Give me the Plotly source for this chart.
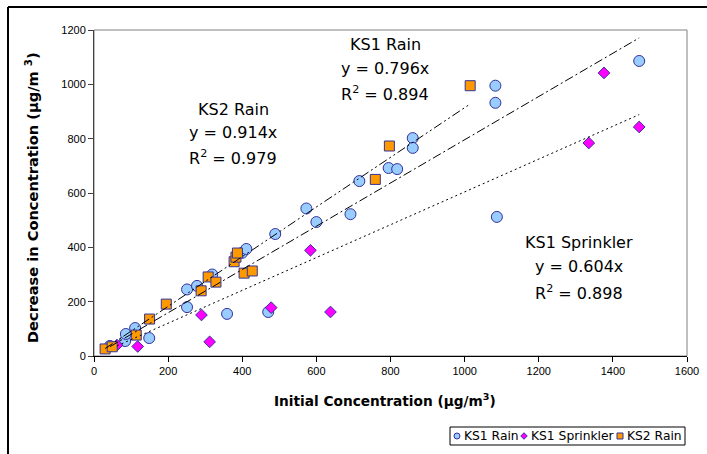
import plotly.graph_objects as go

# ---------------- data ----------------
ks1_rain_x = [43, 84, 86, 111, 149, 251, 251, 278, 319, 359, 400, 411, 470, 489,
              573, 600, 692, 716, 795, 818, 860, 860, 1083, 1083, 1087, 1471]
ks1_rain_y = [37, 55, 81, 103, 66, 180, 245, 258, 300, 155, 380, 394, 162, 449,
              543, 493, 522, 644, 692, 688, 802, 766, 995, 932, 512, 1086]

ks1_spr_x = [62, 118, 290, 312, 478, 584, 638, 1335, 1376, 1471]
ks1_spr_y = [40, 35, 151, 52, 178, 389, 162, 784, 1042, 843]

ks2_rain_x = [30, 49, 114, 150, 195, 289, 308, 329, 378, 383, 387, 405, 427, 759, 797, 1015]
ks2_rain_y = [26, 34, 77, 136, 191, 240, 291, 272, 347, 364, 379, 305, 313, 650, 773, 995]

series_names = ["KS1 Rain", "KS1 Sprinkler", "KS2 Rain"]
slopes = {"KS1 Rain": 0.796, "KS1 Sprinkler": 0.604, "KS2 Rain": 0.914}
r2 = {"KS1 Rain": 0.894, "KS1 Sprinkler": 0.898, "KS2 Rain": 0.979}

x_ticks = [0, 200, 400, 600, 800, 1000, 1200, 1400, 1600]
y_ticks = [0, 200, 400, 600, 800, 1000, 1200]

W, H = 707, 454
FONT = "Liberation Sans, Arial, sans-serif"
WIDE = "DejaVu Sans, sans-serif"
EDGE = "#333399"

fig = go.Figure()

styles = {
    "KS1 Rain": dict(symbol="circle", size=11, color="#99CCFF"),
    "KS1 Sprinkler": dict(symbol="diamond", size=9, color="#FF00FF"),
    "KS2 Rain": dict(symbol="square", size=10, color="#FF9900"),
}
data = {
    "KS1 Rain": (ks1_rain_x, ks1_rain_y),
    "KS1 Sprinkler": (ks1_spr_x, ks1_spr_y),
    "KS2 Rain": (ks2_rain_x, ks2_rain_y),
}

for name in series_names:
    xs, ys = data[name]
    st = styles[name]
    fig.add_trace(go.Scatter(
        x=xs, y=ys, mode="markers", name=name, showlegend=False,
        marker=dict(symbol=st["symbol"], size=st["size"], color=st["color"],
                    line=dict(color=EDGE, width=1)),
    ))

# trend lines y = a x over each series' x range
dashes = {
    "KS1 Rain": "9px,3px,2px,3px",
    "KS1 Sprinkler": "2px,3px",
    "KS2 Rain": "9px,3px,2px,3px,2px,3px",
}
for name in series_names:
    xs, _ = data[name]
    x0, x1 = min(xs), max(xs)
    a = slopes[name]
    fig.add_trace(go.Scatter(
        x=[x0, x1], y=[a * x0, a * x1], mode="lines", showlegend=False,
        line=dict(color="black", width=1, dash=dashes[name]), hoverinfo="skip",
    ))

# ---- custom legend drawn on a full-figure pixel overlay (x2/y2) ----
legend_sym_x = [457, 524, 620]
legend_txt_x = [462, 529, 625]
legend_y = 436
for name, sx in zip(series_names, legend_sym_x):
    st = styles[name]
    fig.add_trace(go.Scatter(
        x=[sx], y=[legend_y], xaxis="x2", yaxis="y2", mode="markers",
        showlegend=False, hoverinfo="skip",
        marker=dict(symbol=st["symbol"], size=6 if st["symbol"] != "diamond" else 5,
                    color=st["color"], line=dict(color=EDGE, width=1)),
    ))
for name, tx in zip(series_names, legend_txt_x):
    fig.add_annotation(x=tx, y=legend_y, xref="x2", yref="y2", text=name,
                       showarrow=False, xanchor="left", yanchor="middle",
                       font=dict(family=WIDE, size=12.3, color="black"))
fig.add_shape(type="rect", xref="x2", yref="y2", x0=450, x1=685, y0=427, y1=445,
              line=dict(color="black", width=1))

# equation labels
label_pos = {
    "KS2 Rain": (376, [909, 824, 732]),
    "KS1 Rain": (786, [1145, 1060, 968]),
    "KS1 Sprinkler": (1308, [416, 331, 234]),
}
for name, (lx, lys) in label_pos.items():
    texts = [name, f"y = {slopes[name]:.3f}x", f"R<sup>2</sup> = {r2[name]:.3f}"]
    for t, ly in zip(texts, lys):
        fig.add_annotation(x=lx, y=ly, xref="x", yref="y", text=t, showarrow=False,
                           xanchor="center", yanchor="middle",
                           font=dict(family=WIDE, size=16, color="black"))

# axis titles
fig.add_annotation(x=385, y=400, xref="x2", yref="y2",
                   text="<b>Initial Concentration (µg/m<sup>3</sup>)</b>", showarrow=False,
                   xanchor="center", yanchor="middle",
                   font=dict(family=WIDE, size=13.7, color="black"))
fig.add_annotation(x=32, y=198, xref="x2", yref="y2",
                   text="<b>Decrease in Concentration (µg/m <sup>3</sup>)</b>", showarrow=False,
                   textangle=-90, xanchor="center", yanchor="middle",
                   font=dict(family=WIDE, size=14.6, color="black"))

# plot-area box (grey) and outer frame
fig.add_shape(type="rect", xref="x domain", yref="y domain", x0=0, y0=0, x1=1, y1=1,
              line=dict(color="#808080", width=1), layer="below")
fig.add_shape(type="line", xref="x2", yref="y2", x0=8, x1=W + 5, y0=7, y1=7,
              line=dict(color="black", width=2))
fig.add_shape(type="line", xref="x2", yref="y2", x0=8, x1=8, y0=7, y1=H + 5,
              line=dict(color="black", width=2))

fig.update_layout(
    width=W, height=H,
    margin=dict(l=0, r=0, t=0, b=0, autoexpand=False),
    plot_bgcolor="rgba(0,0,0,0)", paper_bgcolor="white",
    showlegend=False,
    xaxis=dict(domain=[94 / W, 687 / W], range=[0, 1600], tickvals=x_ticks,
               ticktext=[str(v) for v in x_ticks],
               showgrid=False, zeroline=False, showline=True, linecolor="black", linewidth=1,
               ticks="outside", ticklen=5, tickcolor="black",
               tickfont=dict(family=FONT, size=11, color="black"), anchor="y"),
    yaxis=dict(domain=[(H - 356) / H, (H - 30) / H], range=[0, 1200], tickvals=y_ticks,
               ticktext=[str(v) for v in y_ticks],
               showgrid=False, zeroline=False, showline=True, linecolor="#404040", linewidth=1,
               ticks="outside", ticklen=5, tickcolor="#404040",
               tickfont=dict(family=FONT, size=11, color="black"), anchor="x"),
    xaxis2=dict(domain=[0, 1], range=[0, W], visible=False, anchor="y2", fixedrange=True),
    yaxis2=dict(domain=[0, 1], range=[H, 0], visible=False, anchor="x2", fixedrange=True),
)

fig.write_html("out.html")
